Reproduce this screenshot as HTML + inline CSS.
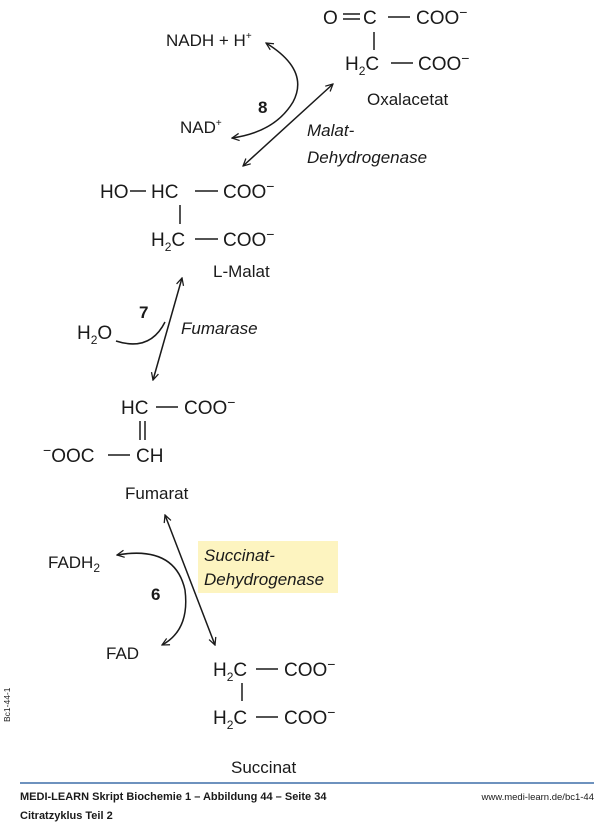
<!DOCTYPE html>
<html><head><meta charset="utf-8"><style>
body{margin:0;background:#fff}
svg{display:block}
text{font-family:"Liberation Sans",sans-serif;fill:#1a1a1a}
.m{font-size:19px}
.l{font-size:17px}
.i{font-size:17px;font-style:italic}
.b{font-size:17px;font-weight:bold}
</style></head><body>
<svg width="600" height="822" viewBox="0 0 600 822" xmlns="http://www.w3.org/2000/svg">
<defs>
<marker id="a" viewBox="0 0 10 10" refX="9" refY="5" markerWidth="9" markerHeight="9" orient="auto-start-reverse" markerUnits="userSpaceOnUse">
<path d="M1,1 L9,5 L1,9" fill="none" stroke="#1a1a1a" stroke-width="1.4"/>
</marker>
</defs>
<g stroke="#1a1a1a" stroke-width="1.5" fill="none">
<!-- Oxalacetat structure -->
<line x1="343" y1="14" x2="360" y2="14"/><line x1="343" y1="19" x2="360" y2="19"/>
<line x1="388" y1="17" x2="410" y2="17"/>
<line x1="374" y1="32" x2="374" y2="50"/>
<line x1="391" y1="63" x2="413" y2="63"/>
<!-- step 8 -->
<path d="M266,43 Q310,70 293,102 Q275,132 232,138" marker-start="url(#a)" marker-end="url(#a)"/>
<line x1="243" y1="166" x2="333" y2="84" marker-start="url(#a)" marker-end="url(#a)"/>
<!-- L-Malat -->
<line x1="130" y1="191" x2="146" y2="191"/>
<line x1="195" y1="191" x2="218" y2="191"/>
<line x1="180" y1="205" x2="180" y2="224"/>
<line x1="195" y1="239" x2="218" y2="239"/>
<!-- step 7 -->
<line x1="182" y1="278" x2="153" y2="380" marker-start="url(#a)" marker-end="url(#a)"/>
<path d="M116,341 Q150,352 165,322"/>
<!-- Fumarat -->
<line x1="156" y1="407" x2="178" y2="407"/>
<line x1="140" y1="421" x2="140" y2="440"/><line x1="145" y1="421" x2="145" y2="440"/>
<line x1="108" y1="455" x2="130" y2="455"/>
<!-- step 6 -->
<line x1="165" y1="515" x2="215" y2="645" marker-start="url(#a)" marker-end="url(#a)"/>
<path d="M117,555 Q175,545 185,590 Q190,630 162,645" marker-start="url(#a)" marker-end="url(#a)"/>
<!-- Succinat -->
<line x1="256" y1="669" x2="278" y2="669"/>
<line x1="242" y1="683" x2="242" y2="701"/>
<line x1="256" y1="717" x2="278" y2="717"/>
</g>
<rect x="198" y="541" width="140" height="52" fill="#fdf4c0"/>
<!-- texts -->
<text class="m" x="323" y="24">O</text>
<text class="m" x="363" y="24">C</text>
<text class="m" x="416" y="24">COO<tspan dy="-7" font-size="14">−</tspan></text>
<text class="m" x="345" y="70">H<tspan font-size="12" dy="5">2</tspan><tspan dy="-5">C</tspan></text>
<text class="m" x="418" y="70">COO<tspan dy="-7" font-size="14">−</tspan></text>
<text class="l" x="367" y="105">Oxalacetat</text>
<text class="l" x="166" y="46">NADH + H<tspan font-size="10" dy="-7">+</tspan></text>
<text class="b" x="258" y="113">8</text>
<text class="l" x="180" y="133">NAD<tspan font-size="10" dy="-7">+</tspan></text>
<text class="i" x="307" y="136">Malat-</text>
<text class="i" x="307" y="163">Dehydrogenase</text>
<text class="m" x="100" y="198">HO</text>
<text class="m" x="151" y="198">HC</text>
<text class="m" x="223" y="198">COO<tspan dy="-7" font-size="14">−</tspan></text>
<text class="m" x="151" y="246">H<tspan font-size="12" dy="5">2</tspan><tspan dy="-5">C</tspan></text>
<text class="m" x="223" y="246">COO<tspan dy="-7" font-size="14">−</tspan></text>
<text class="l" x="213" y="277">L-Malat</text>
<text class="b" x="139" y="318">7</text>
<text class="m" x="77" y="339">H<tspan font-size="12" dy="5">2</tspan><tspan dy="-5">O</tspan></text>
<text class="i" x="181" y="334">Fumarase</text>
<text class="m" x="121" y="414">HC</text>
<text class="m" x="184" y="414">COO<tspan dy="-7" font-size="14">−</tspan></text>
<text class="m" x="43" y="462"><tspan dy="-7" font-size="14">−</tspan><tspan dy="7">OOC</tspan></text>
<text class="m" x="136" y="462">CH</text>
<text class="l" x="125" y="499">Fumarat</text>
<text class="l" x="48" y="568">FADH<tspan font-size="12" dy="4">2</tspan></text>
<text class="b" x="151" y="600">6</text>
<text class="l" x="106" y="659">FAD</text>
<text class="i" x="204" y="561">Succinat-</text>
<text class="i" x="204" y="585">Dehydrogenase</text>
<text class="m" x="213" y="676">H<tspan font-size="12" dy="5">2</tspan><tspan dy="-5">C</tspan></text>
<text class="m" x="284" y="676">COO<tspan dy="-7" font-size="14">−</tspan></text>
<text class="m" x="213" y="724">H<tspan font-size="12" dy="5">2</tspan><tspan dy="-5">C</tspan></text>
<text class="m" x="284" y="724">COO<tspan dy="-7" font-size="14">−</tspan></text>
<text class="l" x="231" y="773">Succinat</text>
<line x1="20" y1="783" x2="594" y2="783" stroke="#3f6ea8" stroke-width="1.5"/>
<text x="20" y="800" font-size="11" font-weight="bold">MEDI-LEARN Skript Biochemie 1 – Abbildung 44 – Seite 34</text>
<text x="20" y="819" font-size="11" font-weight="bold">Citratzyklus Teil 2</text>
<text x="594" y="800" font-size="9.5" text-anchor="end" fill="#444">www.medi-learn.de/bc1-44</text>
<text x="10" y="722" font-size="8.5" fill="#444" transform="rotate(-90 10 722)">Bc1-44-1</text>
</svg>
</body></html>
